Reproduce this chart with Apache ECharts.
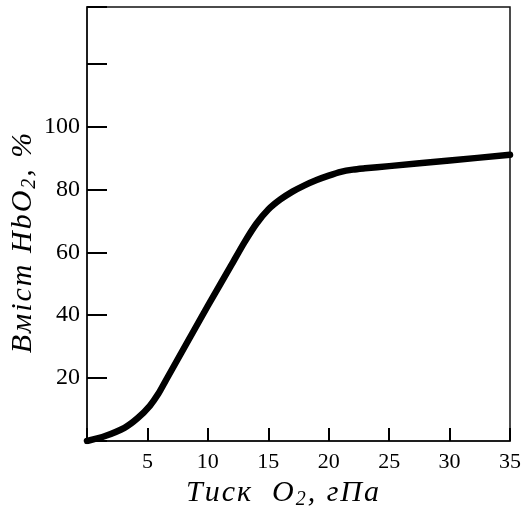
<!DOCTYPE html>
<html><head><meta charset="utf-8">
<script src="https://cdn.jsdelivr.net/npm/echarts@6/dist/echarts.min.js"></script>
<style>html,body{margin:0;padding:0;background:#fff}#c{width:523px;height:506px}</style>
</head><body><div id="c"></div>
<script>
// Pressure O2 (hPa) and HbO2 content (%)
const pressure = [0, 1.5, 3.1, 4.2, 5.2, 5.9, 6.6, 10, 12, 13, 14, 15, 16, 17, 18, 19, 20, 21, 22, 23, 25, 30, 35];
const hbo2     = [0, 1.6, 4.2, 7.3, 11.2, 15, 19.8, 43, 56.3, 63, 69, 73.6, 76.8, 79.3, 81.3, 83, 84.4, 85.6, 86.3, 86.7, 87.4, 89.2, 91];
const xTicks = [5, 10, 15, 20, 25, 30, 35];
const yTicks = [20, 40, 60, 80, 100];

const chart = echarts.init(document.getElementById('c'), null, {renderer: 'canvas'});
const serif = 'Times New Roman, Liberation Serif, serif';
const spaced = s => s.split('').map(ch => '{i|' + ch + '}').join('');
const nameRich = {
  i: {fontFamily: serif, fontStyle: 'italic', fontSize: 30, color: '#000', padding: [0, 2, 0, 0]},
  s: {fontFamily: serif, fontStyle: 'italic', fontSize: 20, color: '#000', padding: [13, 2, 0, 0]}
};
chart.setOption({
  animation: false,
  backgroundColor: '#fff',
  grid: {left: 87, right: 13, top: 7, bottom: 65, outerBoundsMode: 'none', containLabel: false,
    show: true, borderColor: '#111', borderWidth: 1.5, backgroundColor: 'transparent'},
  xAxis: {
    type: 'value', min: 0, max: 35, interval: 5,
    axisLine: {lineStyle: {color: '#111', width: 1.5}},
    axisTick: {inside: true, length: 13, lineStyle: {color: '#000', width: 2}},
    splitLine: {show: false},
    axisLabel: {margin: 10, color: '#000', fontFamily: serif, fontSize: 22,
      formatter: v => xTicks.includes(v) ? String(v) : ''},
    name: spaced('Тиск  O') + '{s|2}' + spaced(', гПа'), nameLocation: 'middle', nameGap: 36,
    nameMoveOverlap: false,
    nameTextStyle: {padding: [0, 30, 0, 0], rich: nameRich}
  },
  yAxis: {
    type: 'value', min: 0, max: 138, interval: 20,
    axisLine: {lineStyle: {color: '#111', width: 1.5}},
    axisTick: {inside: true, length: 20, lineStyle: {color: '#000', width: 2}},
    splitLine: {show: false},
    axisLabel: {margin: 7, color: '#000', fontFamily: serif, fontSize: 24,
      formatter: v => yTicks.includes(v) ? String(v) : ''},
    name: spaced('Вміст HbO') + '{s|2}' + spaced(', %'), nameLocation: 'middle', nameGap: 47,
    nameMoveOverlap: false,
    nameTextStyle: {padding: [0, 36, 0, 0], rich: nameRich}
  },
  series: [{
    type: 'line', data: pressure.map((p, i) => [p, hbo2[i]]),
    smooth: 0.25, symbol: 'none',
    lineStyle: {color: '#000', width: 6.5, cap: 'round', join: 'round'}
  }]
});
</script></body></html>
